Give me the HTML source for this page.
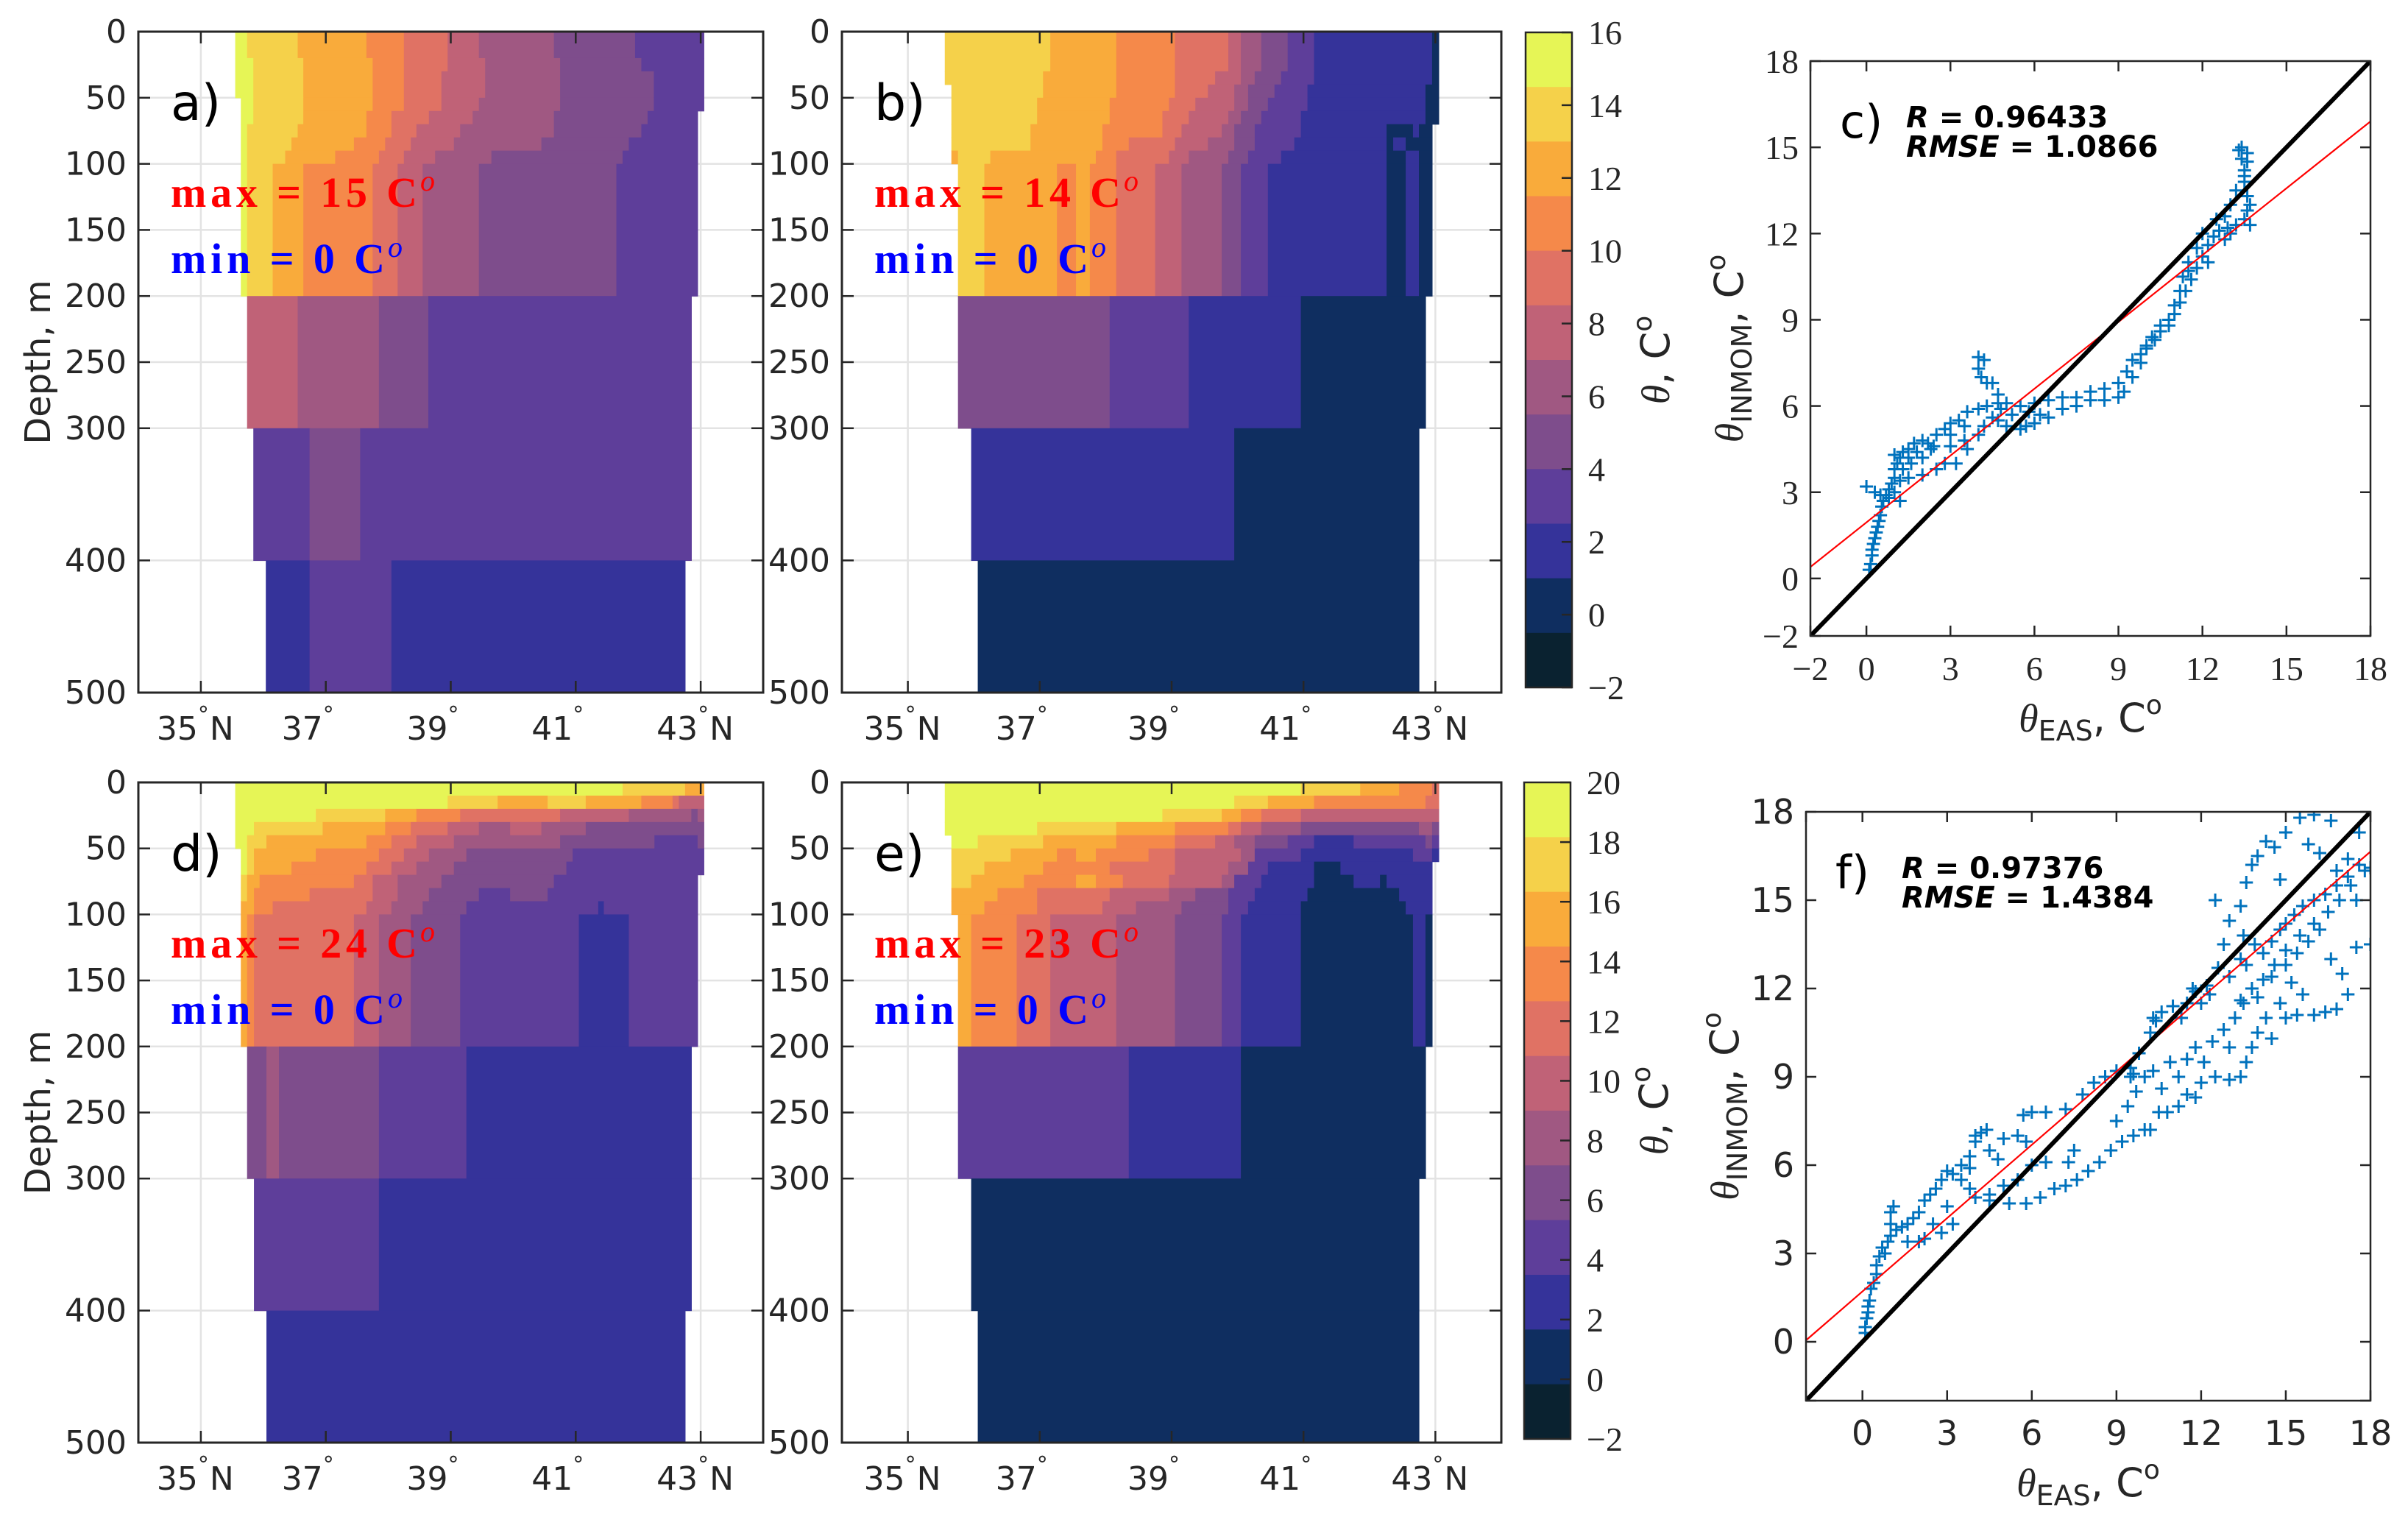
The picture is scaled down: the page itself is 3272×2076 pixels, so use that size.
<!DOCTYPE html>
<html><head><meta charset="utf-8"><style>
html,body{margin:0;padding:0;background:#fff}
svg{display:block}
text{font-family:"DejaVu Sans","Liberation Sans",sans-serif;fill:#262626}
.serif{font-family:"Liberation Serif","DejaVu Serif",serif}
</style></head><body>
<svg id="fig" xmlns="http://www.w3.org/2000/svg" width="3272" height="2076" viewBox="0 0 3272 2076">
<rect x="0" y="0" width="3272" height="2076" fill="#fff"/>
<defs>
<clipPath id="clipC"><rect x="2460" y="83" width="761" height="781"/></clipPath>
<clipPath id="clipF"><rect x="2454" y="1103" width="767" height="800"/></clipPath>
</defs>
</svg>
<script>
// ---------- shared data ----------
const depthTicks=[0,50,100,150,200,250,300,400,500];
const latTicks=[35,37,39,41,43];
const latTickNums=['35','37','39','41','43'];
const latTickSuffix=['N','','','','N'];
const cmapColors=['#e6f556','#f5d14a','#f9ab3b','#f5894a','#e07264','#c06277','#a05882','#7e4d8c','#5e3e9a','#35339a','#0f2e60','#0a2230'];
const cbarTopTicks=[16,14,12,10,8,6,4,2,0,-2];
const cbarBotTicks=[20,18,16,14,12,10,8,6,4,2,0,-2];

// Panel a (top colour scale −2..16)
const aRows=[[0,20],[20,30],[30,50],[50,60],[60,70],[70,80],[80,90],[90,100],[100,200],[200,300],[300,400],[400,500]];
const aSegs=[
[[35.55,35.74,15.25],[35.74,36.55,13.75],[36.55,37.65,12.25],[37.65,38.25,10.75],[38.25,38.95,9.25],[38.95,39.45,7.75],[39.45,40.65,6.25],[40.65,41.95,4.75],[41.95,43.05,3.25]],
[[35.55,35.84,15.25],[35.84,36.64,13.75],[36.64,37.75,12.25],[37.75,38.25,10.75],[38.25,38.95,9.25],[38.95,39.55,7.75],[39.55,40.75,6.25],[40.75,42.05,4.75],[42.05,43.05,3.25]],
[[35.55,35.84,15.25],[35.84,36.64,13.75],[36.64,37.75,12.25],[37.75,38.25,10.75],[38.25,38.85,9.25],[38.85,39.55,7.75],[39.55,40.75,6.25],[40.75,42.25,4.75],[42.25,43.05,3.25]],
[[35.64,35.84,15.25],[35.84,36.64,13.75],[36.64,37.75,12.25],[37.75,38.25,10.75],[38.25,38.85,9.25],[38.85,39.45,7.75],[39.45,40.75,6.25],[40.75,42.25,4.75],[42.25,43.05,3.25]],
[[35.64,35.84,15.25],[35.84,36.64,13.75],[36.64,37.65,12.25],[37.65,38.05,10.75],[38.05,38.65,9.25],[38.65,39.35,7.75],[39.35,40.65,6.25],[40.65,42.15,4.75],[42.15,42.95,3.25]],
[[35.64,35.74,15.25],[35.74,36.55,13.75],[36.55,37.65,12.25],[37.65,38.05,10.75],[38.05,38.45,9.25],[38.45,39.15,7.75],[39.15,40.65,6.25],[40.65,42.05,4.75],[42.05,42.95,3.25]],
[[35.64,35.74,15.25],[35.74,36.45,13.75],[36.45,37.45,12.25],[37.45,37.95,10.75],[37.95,38.36,9.25],[38.36,39.05,7.75],[39.05,40.45,6.25],[40.45,41.85,4.75],[41.85,42.95,3.25]],
[[35.64,35.74,15.25],[35.74,36.35,13.75],[36.35,37.15,12.25],[37.15,37.85,10.75],[37.85,38.25,9.25],[38.25,38.75,7.75],[38.75,39.65,6.25],[39.65,41.75,4.75],[41.75,42.95,3.25]],
[[35.64,35.74,15.25],[35.74,36.15,13.75],[36.15,36.64,12.25],[36.64,37.75,10.75],[37.75,38.15,9.25],[38.15,38.55,7.75],[38.55,39.45,6.25],[39.45,41.65,4.75],[41.65,42.95,3.25]],
[[35.74,36.55,7.75],[36.55,37.85,6.25],[37.85,38.64,4.75],[38.64,42.85,3.25]],
[[35.84,36.74,3.25],[36.74,37.55,4.75],[37.55,42.85,3.25]],
[[36.04,36.74,1.75],[36.74,38.05,3.25],[38.05,42.75,1.75]]
];

// Panel b (top colour scale)
const bRows=[[0,30],[30,40],[40,50],[50,60],[60,70],[70,80],[80,90],[90,100],[100,200],[200,300],[300,400],[400,500]];
const bSegs=[
[[35.56,37.16,13.75],[37.16,38.16,12.25],[38.16,39.05,10.75],[39.05,39.86,9.25],[39.86,40.05,7.75],[40.05,40.36,6.25],[40.36,40.76,4.75],[40.76,41.16,3.25],[41.16,42.95,1.75],[42.95,43.05,0.25]],
[[35.56,37.05,13.75],[37.05,38.16,12.25],[38.16,39.05,10.75],[39.05,39.66,9.25],[39.66,40.05,7.75],[40.05,40.26,6.25],[40.26,40.66,4.75],[40.66,41.16,3.25],[41.16,42.95,1.75],[42.95,43.05,0.25]],
[[35.66,37.05,13.75],[37.05,38.16,12.25],[38.16,39.05,10.75],[39.05,39.55,9.25],[39.55,39.95,7.75],[39.95,40.16,6.25],[40.16,40.56,4.75],[40.56,41.06,3.25],[41.06,42.85,1.75],[42.85,43.05,0.25]],
[[35.66,36.96,13.75],[36.96,38.06,12.25],[38.06,38.96,10.75],[38.96,39.36,9.25],[39.36,39.95,7.75],[39.95,40.16,6.25],[40.16,40.46,4.75],[40.46,41.06,3.25],[41.06,42.85,1.75],[42.85,43.05,0.25]],
[[35.66,36.96,13.75],[36.96,38.06,12.25],[38.06,38.86,10.75],[38.86,39.26,9.25],[39.26,39.86,7.75],[39.86,40.05,6.25],[40.05,40.36,4.75],[40.36,40.96,3.25],[40.96,42.85,1.75],[42.85,43.05,0.25]],
[[35.66,36.86,13.75],[36.86,37.95,12.25],[37.95,38.86,10.75],[38.86,39.15,9.25],[39.15,39.76,7.75],[39.76,39.95,6.25],[39.95,40.26,4.75],[40.26,40.96,3.25],[40.96,42.26,1.75],[42.26,42.66,0.25],[42.66,42.75,1.75],[42.75,42.95,0.25]],
[[35.66,36.86,13.75],[36.86,37.95,12.25],[37.95,38.35,10.75],[38.35,39.05,9.25],[39.05,39.55,7.75],[39.55,39.95,6.25],[39.95,40.26,4.75],[40.26,40.86,3.25],[40.86,42.26,1.75],[42.26,42.36,0.25],[42.36,42.55,1.75],[42.55,42.95,0.25]],
[[35.66,35.76,12.25],[35.76,36.25,13.75],[36.25,37.85,12.25],[37.85,38.16,10.75],[38.16,38.96,9.25],[38.96,39.26,7.75],[39.26,39.86,6.25],[39.86,40.16,4.75],[40.16,40.66,3.25],[40.66,42.26,1.75],[42.26,42.55,0.25],[42.55,42.75,1.75],[42.75,42.95,0.25]],
[[35.76,36.16,13.75],[36.16,37.26,12.25],[37.26,37.55,10.75],[37.55,37.76,12.25],[37.76,38.16,10.75],[38.16,38.75,9.25],[38.75,39.15,7.75],[39.15,39.76,6.25],[39.76,40.05,4.75],[40.05,40.46,3.25],[40.46,42.26,1.75],[42.26,42.55,0.25],[42.55,42.75,1.75],[42.75,42.95,0.25]],
[[35.76,38.06,4.75],[38.06,39.26,3.25],[39.26,40.96,1.75],[40.96,42.85,0.25]],
[[35.96,39.95,1.75],[39.95,42.75,0.25]],
[[36.06,42.75,0.25]]
];

// Panel d (bottom colour scale −2..20)
const dRows=[[0,10],[10,20],[20,30],[30,40],[40,50],[50,60],[60,70],[70,80],[80,90],[90,100],[100,200],[200,300],[300,400],[400,500]];
const dSegs=[
[[35.55,41.75,19.08],[41.75,42.75,17.25],[42.75,43.05,15.42]],
[[35.55,38.95,19.08],[38.95,39.75,17.25],[39.75,40.55,15.42],[40.55,41.16,17.25],[41.16,42.05,15.42],[42.05,42.55,13.58],[42.55,42.65,11.75],[42.65,43.05,9.92]],
[[35.55,36.84,19.08],[36.84,37.95,17.25],[37.95,38.45,15.42],[38.45,39.15,13.58],[39.15,40.75,11.75],[40.75,41.85,9.92],[41.85,42.85,8.08],[42.85,42.95,6.25],[42.95,43.05,8.08]],
[[35.55,35.85,19.08],[35.85,36.95,17.25],[36.95,37.95,15.42],[37.95,38.36,13.58],[38.36,38.95,11.75],[38.95,39.45,9.92],[39.45,39.95,8.08],[39.95,40.45,9.92],[40.45,41.16,8.08],[41.16,43.05,6.25]],
[[35.55,35.74,19.08],[35.74,36.05,17.25],[36.05,37.65,15.42],[37.65,38.05,13.58],[38.05,38.45,11.75],[38.45,39.05,9.92],[39.05,40.75,8.08],[40.75,42.26,6.25],[42.26,42.95,4.42],[42.95,43.05,6.25]],
[[35.64,35.74,19.08],[35.74,35.85,17.25],[35.85,36.84,15.42],[36.84,37.85,13.58],[37.85,38.25,11.75],[38.25,38.65,9.92],[38.65,39.25,8.08],[39.25,40.95,6.25],[40.95,43.05,4.42]],
[[35.64,35.74,19.08],[35.74,35.85,17.25],[35.85,36.45,15.42],[36.45,37.65,13.58],[37.65,38.05,11.75],[38.05,38.45,9.92],[38.45,39.05,8.08],[39.05,40.85,6.25],[40.85,43.05,4.42]],
[[35.64,35.74,17.25],[35.74,35.94,15.42],[35.94,37.45,13.58],[37.45,37.75,11.75],[37.75,38.15,9.92],[38.15,38.85,8.08],[38.85,40.65,6.25],[40.65,42.95,4.42]],
[[35.64,35.74,17.25],[35.74,35.85,15.42],[35.85,36.74,13.58],[36.74,37.75,11.75],[37.75,38.15,9.92],[38.15,38.65,8.08],[38.65,39.45,6.25],[39.45,39.95,4.42],[39.95,40.55,6.25],[40.55,42.95,4.42]],
[[35.64,35.85,15.42],[35.85,36.15,13.58],[36.15,37.65,11.75],[37.65,38.05,9.92],[38.05,38.55,8.08],[38.55,39.25,6.25],[39.25,41.36,4.42],[41.36,41.45,2.58],[41.45,42.95,4.42]],
[[35.64,35.74,15.42],[35.74,35.85,13.58],[35.85,37.45,11.75],[37.45,37.85,9.92],[37.85,38.36,8.08],[38.36,39.15,6.25],[39.15,41.05,4.42],[41.05,41.85,2.58],[41.85,42.95,4.42]],
[[35.74,36.05,6.25],[36.05,36.25,8.08],[36.25,37.85,6.25],[37.85,39.25,4.42],[39.25,42.85,2.58]],
[[35.85,37.85,4.42],[37.85,42.85,2.58]],
[[36.05,42.75,2.58]]
];

// Panel e (bottom colour scale)
const eRows=[[0,10],[10,20],[20,30],[30,40],[40,50],[50,60],[60,70],[70,80],[80,90],[90,100],[100,200],[200,300],[300,400],[400,500]];
const eSegs=[
[[35.56,40.96,19.08],[40.96,41.86,17.25],[41.86,42.45,15.42],[42.45,42.95,13.58],[42.95,43.05,11.75]],
[[35.56,39.95,19.08],[39.95,40.46,17.25],[40.46,41.16,15.42],[41.16,42.85,13.58],[42.85,43.05,11.75]],
[[35.56,38.86,19.08],[38.86,39.76,17.25],[39.76,40.05,15.42],[40.05,40.36,13.58],[40.36,40.96,11.75],[40.96,43.05,9.92]],
[[35.56,36.96,19.08],[36.96,38.16,17.25],[38.16,39.05,15.42],[39.05,39.86,13.58],[39.86,40.05,11.75],[40.05,40.36,9.92],[40.36,40.96,8.08],[40.96,42.75,6.25],[42.75,42.95,8.08],[42.95,43.05,6.25]],
[[35.66,36.06,19.08],[36.06,37.05,17.25],[37.05,38.16,15.42],[38.16,39.05,13.58],[39.05,39.66,11.75],[39.66,39.95,9.92],[39.95,40.26,8.08],[40.26,40.76,6.25],[40.76,41.16,4.42],[41.16,41.76,2.58],[41.76,42.85,4.42],[42.85,42.95,6.25],[42.95,43.05,4.42]],
[[35.66,36.56,17.25],[36.56,37.26,15.42],[37.26,37.55,13.58],[37.55,37.85,15.42],[37.85,38.65,13.58],[38.65,39.05,11.75],[39.05,40.05,9.92],[40.05,40.26,8.08],[40.26,40.96,4.42],[40.96,42.66,2.58],[42.66,42.95,4.42],[42.95,43.05,2.58]],
[[35.66,36.16,17.25],[36.16,37.05,15.42],[37.05,38.06,13.58],[38.06,39.05,11.75],[39.05,39.86,9.92],[39.86,40.16,8.08],[40.16,40.46,4.42],[40.46,41.16,2.58],[41.16,41.56,0.75],[41.56,42.95,2.58]],
[[35.66,35.96,17.25],[35.96,36.76,15.42],[36.76,37.55,13.58],[37.55,37.85,15.42],[37.85,38.26,13.58],[38.26,38.96,11.75],[38.96,39.76,9.92],[39.76,39.95,8.08],[39.95,40.36,4.42],[40.36,41.16,2.58],[41.16,41.76,0.75],[41.76,42.16,2.58],[42.16,42.26,0.75],[42.26,42.95,2.58]],
[[35.66,36.36,15.42],[36.36,36.96,13.58],[36.96,38.06,11.75],[38.06,38.96,9.92],[38.96,39.36,8.08],[39.36,39.86,6.25],[39.86,40.26,4.42],[40.26,41.06,2.58],[41.06,42.45,0.75],[42.45,42.95,2.58]],
[[35.66,36.16,15.42],[36.16,36.96,13.58],[36.96,37.95,11.75],[37.95,38.46,9.92],[38.46,39.15,8.08],[39.15,39.86,6.25],[39.86,40.16,4.42],[40.16,40.96,2.58],[40.96,42.55,0.75],[42.55,42.95,2.58]],
[[35.76,35.96,15.42],[35.96,36.65,13.58],[36.65,37.16,11.75],[37.16,38.16,9.92],[38.16,39.05,8.08],[39.05,39.76,6.25],[39.76,40.05,4.42],[40.05,40.96,2.58],[40.96,42.66,0.75],[42.66,42.85,2.58],[42.85,42.95,0.75]],
[[35.76,38.35,4.42],[38.35,40.05,2.58],[40.05,42.85,0.75]],
[[35.96,42.75,0.75]],
[[36.06,42.75,0.75]]
];

// Scatter c
const cEas=[0.1,0.15,0.2,0.2,0.25,0.3,0.35,0.4,0.45,0.5,0.55,0.6,0.7,0.8,0.9,1.0,1.0,1.1,1.2,1.3,1.5,1.7,2.0,2.2,2.5,2.8,3.0,3.3,3.6,4.0,4.3,4.7,5.0,5.5,6.0,6.5,7.0,7.5,8.0,8.5,9.0,9.3,9.5,9.8,10.0,10.3,10.5,10.8,11.0,11.2,11.4,11.6,11.8,12.0,12.2,12.4,12.6,12.9,13.2,13.5,13.6,13.6,13.5,13.5,13.4,13.4,13.6,13.5,13.2,13.0,12.8,12.5,12.0,11.8,11.5,11.3,11.2,11.0,10.8,10.5,10.2,10.0,9.8,9.5,9.2,9.0,8.5,8.0,7.5,7.0,6.5,6.0,5.7,5.5,5.0,4.7,4.5,4.2,4.0,3.5,3.0,2.8,2.5,2.0,1.5,1.2,1.0,0.8,0.0,0.3,0.5,1.2,1.5,1.8,2.3,3.0,3.5,4.0,4.0,4.1,4.3,4.5,4.7,4.2,4.8,5.2,5.8,6.2,1.0,1.3,1.6,2.0,2.4,3.2,3.6,11.5,12.2,12.8,13.0,13.7,13.7,13.3,13.6];
const cInm=[0.3,0.5,0.8,1.0,1.2,1.4,1.6,1.8,2.0,2.2,2.5,2.7,2.9,3.1,3.3,3.5,3.8,4.0,4.2,4.4,4.5,4.7,4.8,4.7,5.0,5.2,5.4,5.5,5.8,5.9,6.0,6.1,6.1,6.0,6.1,6.2,6.3,6.3,6.5,6.6,6.8,7.2,7.6,7.8,8.0,8.3,8.6,8.8,9.2,9.6,10.0,10.4,10.8,11.2,11.6,11.9,12.1,12.2,12.3,12.5,12.8,13.3,13.8,14.2,14.6,15.0,14.8,14.0,13.5,13.0,12.6,12.5,12.0,11.5,11.0,10.5,10.0,9.5,9.0,8.8,8.4,8.1,7.5,7.0,6.5,6.3,6.2,6.2,6.0,5.9,5.6,5.4,5.3,5.2,5.3,5.5,5.6,5.3,5.0,4.8,4.6,4.0,3.8,3.6,3.5,3.4,3.0,2.8,3.2,3.0,2.9,2.7,4.2,4.4,4.5,5.0,5.3,7.7,7.3,7.0,6.8,6.8,6.4,7.6,5.9,5.7,5.8,5.7,4.3,3.8,4.0,4.2,4.6,4.0,4.5,10.7,11.0,11.8,12.0,12.3,13.0,14.9,14.5];

// Scatter f
const fEas=[0.1,0.1,0.15,0.2,0.2,0.25,0.3,0.4,0.5,0.5,0.6,0.7,0.8,0.9,1.0,1.0,1.0,1.1,1.2,1.4,1.6,1.8,2.0,2.2,2.4,2.6,2.8,3.0,3.2,3.5,3.8,4.0,4.2,4.4,4.0,3.8,4.5,4.8,5.0,5.5,5.7,6.0,6.5,7.2,7.8,8.2,8.6,9.0,5.8,6.0,6.5,7.3,7.5,5.5,5.0,4.5,4.0,3.8,3.5,3.0,2.5,2.2,2.0,1.6,2.8,3.2,4.5,5.2,5.8,6.3,6.8,7.2,7.6,8.0,8.4,8.8,9.2,9.6,10.0,10.2,10.5,10.8,11.2,11.5,11.8,12.0,12.5,13.0,13.4,13.6,13.8,14.0,14.3,14.5,9.0,9.4,9.7,10.0,10.3,10.6,10.9,11.2,11.5,11.8,12.1,12.4,12.8,13.0,13.2,13.5,9.5,9.8,10.2,10.3,10.6,11.0,11.3,11.7,12.0,12.3,12.6,13.0,13.4,13.6,13.9,14.2,14.5,14.8,15.0,15.3,15.6,16.0,16.4,16.8,17.2,17.6,17.8,17.3,16.9,16.5,16.0,15.5,15.0,14.6,14.2,13.8,13.4,14.0,14.5,15.0,15.4,15.8,16.2,16.6,17.0,17.5,18.0,17.2,16.8,16.4,16.0,15.4,15.0,14.8,15.2,15.6,12.5,13.0,13.4,13.6,13.8,14.0,14.3,14.6,15.0,15.5,16.0,16.6,15.8,16.2,17.6,17.2,14.8,13.5,12.8,11.5,10.4,9.5,9.6,17.5,18.0,16.8,12.2,11.8];
const fInm=[0.3,0.5,0.8,1.0,1.2,1.4,1.8,2.0,2.3,2.6,2.9,3.2,3.0,3.4,3.6,4.0,4.4,4.6,3.8,3.9,4.0,4.2,4.4,4.8,5.0,5.2,5.5,5.8,5.7,6.0,6.3,7.0,7.1,7.2,6.8,5.9,6.5,6.2,6.9,7.0,7.7,7.8,7.8,7.9,8.4,8.8,9.0,9.2,6.8,6.0,6.1,6.1,6.5,5.5,5.3,4.8,4.9,5.2,5.5,4.6,4.0,3.5,3.4,3.4,3.7,4.0,5.0,4.7,4.7,4.9,5.2,5.3,5.5,5.8,6.1,6.5,6.8,7.0,7.2,7.2,7.8,7.8,8.0,8.4,8.3,8.8,9.0,8.9,9.0,9.5,10.0,10.5,11.0,10.3,7.5,8.0,8.5,9.0,9.2,8.6,9.5,9.0,9.6,10.0,9.5,10.2,10.6,10.0,11.0,11.5,9.0,9.8,10.5,11.0,11.2,11.4,11.0,12.0,11.5,11.8,12.7,12.4,13.0,12.8,13.5,13.2,13.6,14.0,14.2,14.5,14.8,15.0,15.2,15.5,15.8,16.2,16.0,15.5,15.0,14.6,14.2,13.8,13.3,12.8,12.3,12.0,11.6,11.7,12.4,12.8,13.2,13.6,14.0,13.0,12.5,13.4,13.5,11.8,11.3,11.2,11.1,11.1,11.0,11.5,12.2,11.8,15.0,14.3,14.8,15.6,16.2,16.5,17.0,16.8,17.3,17.8,17.9,17.7,16.9,16.6,17.3,16.4,15.7,13.8,13.5,11.5,10.9,9.3,9.1,15.0,16.1,16.0,12.1,11.9];

// ---------- helpers ----------
const svg=document.getElementById('fig');
const NS='http://www.w3.org/2000/svg';
function mk(tag,attrs,parent){const e=document.createElementNS(NS,tag);for(const k in attrs)e.setAttribute(k,attrs[k]);(parent||svg).appendChild(e);return e;}
function colorOf(v,vmin,vmax){const n=cmapColors.length;let k=Math.floor((vmax-v)/(vmax-vmin)*n);k=Math.max(0,Math.min(n-1,k));return cmapColors[k];}

function heatPanel(id,P,rows,segs,vmin,vmax,label,maxT,minT,showYTitle){
  const g=mk('g',{});
  
  
  const sx=lat=>P.x0+(lat-34)/10*(P.x1-P.x0);
  const sy=z=>P.y0+z/500*(P.y1-P.y0);
  latTicks.forEach(t=>{const l=mk('line',{x1:sx(t),x2:sx(t),y1:P.y0,y2:P.y1,stroke:'#e3e3e3','stroke-width':2.5},g);
    });
  depthTicks.forEach(t=>{const l=mk('line',{x1:P.x0,x2:P.x1,y1:sy(t),y2:sy(t),stroke:'#e3e3e3','stroke-width':2.5},g);
    });
  rows.forEach((r,i)=>{segs[i].forEach(s=>{
    const x0=sx(s[0]),x1=sx(s[1]),y0=sy(r[0]),y1=sy(r[1]);
    const c=mk('rect',{x:x0,y:y0,width:x1-x0+0.6,height:y1-y0+0.6,fill:colorOf(s[2],vmin,vmax)},g);
    
    
  });});
  const fr=mk('rect',{x:P.x0,y:P.y0,width:P.x1-P.x0,height:P.y1-P.y0,fill:'none',stroke:'#262626','stroke-width':3},g);
  
  depthTicks.forEach(t=>{
    mk('line',{x1:P.x0,x2:P.x0+16,y1:sy(t),y2:sy(t),stroke:'#262626','stroke-width':2.5},g);
    mk('line',{x1:P.x1,x2:P.x1-16,y1:sy(t),y2:sy(t),stroke:'#262626','stroke-width':2.5},g);
    const tx=mk('text',{x:P.x0-16,y:sy(t)+15,'text-anchor':'end','font-size':44},g);
    tx.textContent=t;
    
  });
  latTicks.forEach((t,i)=>{
    mk('line',{x1:sx(t),x2:sx(t),y1:P.y1,y2:P.y1-16,stroke:'#262626','stroke-width':2.5},g);
    mk('line',{x1:sx(t),x2:sx(t),y1:P.y0,y2:P.y0+16,stroke:'#262626','stroke-width':2.5},g);
    const tx=mk('text',{x:sx(t)-4,y:P.y1+64,'text-anchor':'end','font-size':44},g);
    tx.textContent=latTickNums[i];
    
    const dg=mk('text',{x:sx(t)-4,y:P.y1+40,'font-size':30},g);dg.textContent='°';
    if(latTickSuffix[i]){const n=mk('text',{x:sx(t)+12,y:P.y1+64,'font-size':44},g);n.textContent=latTickSuffix[i];}
  });
  if(showYTitle){
    const yt=mk('text',{x:0,y:0,'text-anchor':'middle','font-size':48,transform:`translate(${P.x0-120},${(P.y0+P.y1)/2}) rotate(-90)`},g);
    yt.textContent='Depth, m';
    
  }
  const pl=mk('text',{x:P.x0+44,y:P.y0+120,'font-size':68,style:'fill:#000'},g);
  pl.textContent=label;
  
  const mx=mk('text',{x:P.x0+44,y:P.y0+238,'font-size':58,'font-weight':'bold',class:'serif',style:'fill:#ff0000',textLength:335,lengthAdjust:'spacing'},g);
  mx.textContent='max = '+maxT+' C';
  
  const mxo=mk('text',{x:P.x0+44+339,y:P.y0+216,'font-size':40,'font-style':'italic',class:'serif',style:'fill:#ff0000'},g);
  mxo.textContent='o';
  const mn=mk('text',{x:P.x0+44,y:P.y0+328,'font-size':58,'font-weight':'bold',class:'serif',style:'fill:#0000ff',textLength:291,lengthAdjust:'spacing'},g);
  mn.textContent='min = '+minT+' C';
  
  const mno=mk('text',{x:P.x0+44+295,y:P.y0+306,'font-size':40,'font-style':'italic',class:'serif',style:'fill:#0000ff'},g);
  mno.textContent='o';
}

function colorbar(id,B,vmin,vmax,ticks){
  const g=mk('g',{});
  
  
  const n=cmapColors.length;
  const sy=v=>B.y1-(v-vmin)/(vmax-vmin)*(B.y1-B.y0);
  cmapColors.forEach((c,k)=>{
    const vTop=vmax-k*(vmax-vmin)/n, vBot=vmax-(k+1)*(vmax-vmin)/n;
    const r=mk('rect',{x:B.x0,y:sy(vTop),width:B.x1-B.x0,height:sy(vBot)-sy(vTop)+0.6,fill:c},g);
    
  });
  mk('rect',{x:B.x0,y:B.y0,width:B.x1-B.x0,height:B.y1-B.y0,fill:'none',stroke:'#262626','stroke-width':2.5},g);
  ticks.forEach(t=>{
    mk('line',{x1:B.x1,x2:B.x1-14,y1:sy(t),y2:sy(t),stroke:'#262626','stroke-width':2.5},g);
    const tx=mk('text',{x:B.x1+22,y:sy(t)+16,'font-size':46,class:'serif'},g);
    tx.textContent=t<0?'\u2212'+(-t):String(t);
    
  });
  const lb=mk('text',{x:0,y:0,'text-anchor':'middle','font-size':54,transform:`translate(${B.x1+132},${(B.y0+B.y1)/2}) rotate(-90)`},g);
  lb.innerHTML='<tspan class="serif" font-style="italic">θ</tspan>, C<tspan font-size="36" dy="-24">o</tspan>';
  
}

function scatterPanel(id,A,xs,ys,fitA,fitB,label,rTxt,rmseTxt,serifTicks,clip){
  const g=mk('g',{});
  
  
  const sx=v=>A.x0+(v+2)/20*(A.x1-A.x0);
  const sy=v=>A.y1-(v+2)/20*(A.y1-A.y0);
  const inner=mk('g',{'clip-path':'url(#'+clip+')'},g);
  let d='';
  xs.forEach((x,i)=>{const px=sx(x),py=sy(ys[i]);d+=`M${px-9},${py}H${px+9}M${px},${py-9}V${py+9}`;});
  const pts=mk('path',{d:d,stroke:'#0072bd','stroke-width':3,fill:'none'},inner);
  
  const fit=mk('line',{x1:sx(-2),y1:sy(fitA+fitB*(-2)),x2:sx(18),y2:sy(fitA+fitB*18),stroke:'#ff0000','stroke-width':2.2},inner);
  
  const one=mk('line',{x1:sx(-2),y1:sy(-2),x2:sx(18),y2:sy(18),stroke:'#000','stroke-width':6},inner);
  
  mk('rect',{x:A.x0,y:A.y0,width:A.x1-A.x0,height:A.y1-A.y0,fill:'none',stroke:'#262626','stroke-width':2.5},g);
  const tv=[-2,0,3,6,9,12,15,18];
  tv.forEach(t=>{
    mk('line',{x1:sx(t),x2:sx(t),y1:A.y1,y2:A.y1-14,stroke:'#262626','stroke-width':2.5},g);
    mk('line',{x1:sx(t),x2:sx(t),y1:A.y0,y2:A.y0+14,stroke:'#262626','stroke-width':2.5},g);
    mk('line',{x1:A.x0,x2:A.x0+14,y1:sy(t),y2:sy(t),stroke:'#262626','stroke-width':2.5},g);
    mk('line',{x1:A.x1,x2:A.x1-14,y1:sy(t),y2:sy(t),stroke:'#262626','stroke-width':2.5},g);
    const lab=t<0?'\u2212'+(-t):String(t);
    if(serifTicks||t!==-2){
      const tx=mk('text',{x:sx(t),y:A.y1+60,'text-anchor':'middle','font-size':46},g);
      if(serifTicks)tx.setAttribute('class','serif');
      tx.textContent=lab;
      
      const ty=mk('text',{x:A.x0-16,y:sy(t)+16,'text-anchor':'end','font-size':46},g);
      if(serifTicks)ty.setAttribute('class','serif');
      ty.textContent=lab;
      
    }
  });
  const xl=mk('text',{x:(A.x0+A.x1)/2,y:A.y1+130,'text-anchor':'middle','font-size':54},g);
  xl.innerHTML='<tspan class="serif" font-style="italic">θ</tspan><tspan font-size="38" dy="12">EAS</tspan><tspan dy="-12">, C</tspan><tspan font-size="36" dy="-24">o</tspan>';
  
  const yl=mk('text',{x:0,y:0,'text-anchor':'middle','font-size':54,transform:`translate(${A.x0-92},${(A.y0+A.y1)/2}) rotate(-90)`},g);
  yl.innerHTML='<tspan class="serif" font-style="italic">θ</tspan><tspan font-size="38" dy="12">INMOM</tspan><tspan dy="-12">, C</tspan><tspan font-size="36" dy="-24">o</tspan>';
  
  const pl=mk('text',{x:A.x0+40,y:A.y0+104,'font-size':62,style:'fill:#000'},g);
  pl.textContent=label;
  
  const r1=mk('text',{x:A.x0+130,y:A.y0+90,'font-size':40,'font-weight':'bold',style:'fill:#000'},g);
  r1.innerHTML='<tspan font-style="italic">R</tspan> = '+rTxt;
  
  const r2=mk('text',{x:A.x0+130,y:A.y0+130,'font-size':40,'font-weight':'bold',style:'fill:#000'},g);
  r2.innerHTML='<tspan font-style="italic">RMSE</tspan> = '+rmseTxt;
  
}

heatPanel('a',{x0:188,x1:1037,y0:43,y1:941},aRows,aSegs,-2,16,'a)',15,0,true);
heatPanel('b',{x0:1144,x1:2040,y0:43,y1:941},bRows,bSegs,-2,16,'b)',14,0,false);
heatPanel('d',{x0:188,x1:1037,y0:1063,y1:1960},dRows,dSegs,-2,20,'d)',24,0,true);
heatPanel('e',{x0:1144,x1:2040,y0:1063,y1:1960},eRows,eSegs,-2,20,'e)',23,0,false);
colorbar('top',{x0:2073,x1:2136,y0:44,y1:934},-2,16,cbarTopTicks);
colorbar('bottom',{x0:2071,x1:2134,y0:1063,y1:1955},-2,20,cbarBotTicks);
scatterPanel('c',{x0:2460,x1:3221,y0:83,y1:864},cEas,cInm,1.95,0.775,'c)','0.96433','1.0866',true,'clipC');
scatterPanel('f',{x0:2454,x1:3221,y0:1103,y1:1903},fEas,fInm,1.71,0.83,'f)','0.97376','1.4384',false,'clipF');
</script>
</body></html>
